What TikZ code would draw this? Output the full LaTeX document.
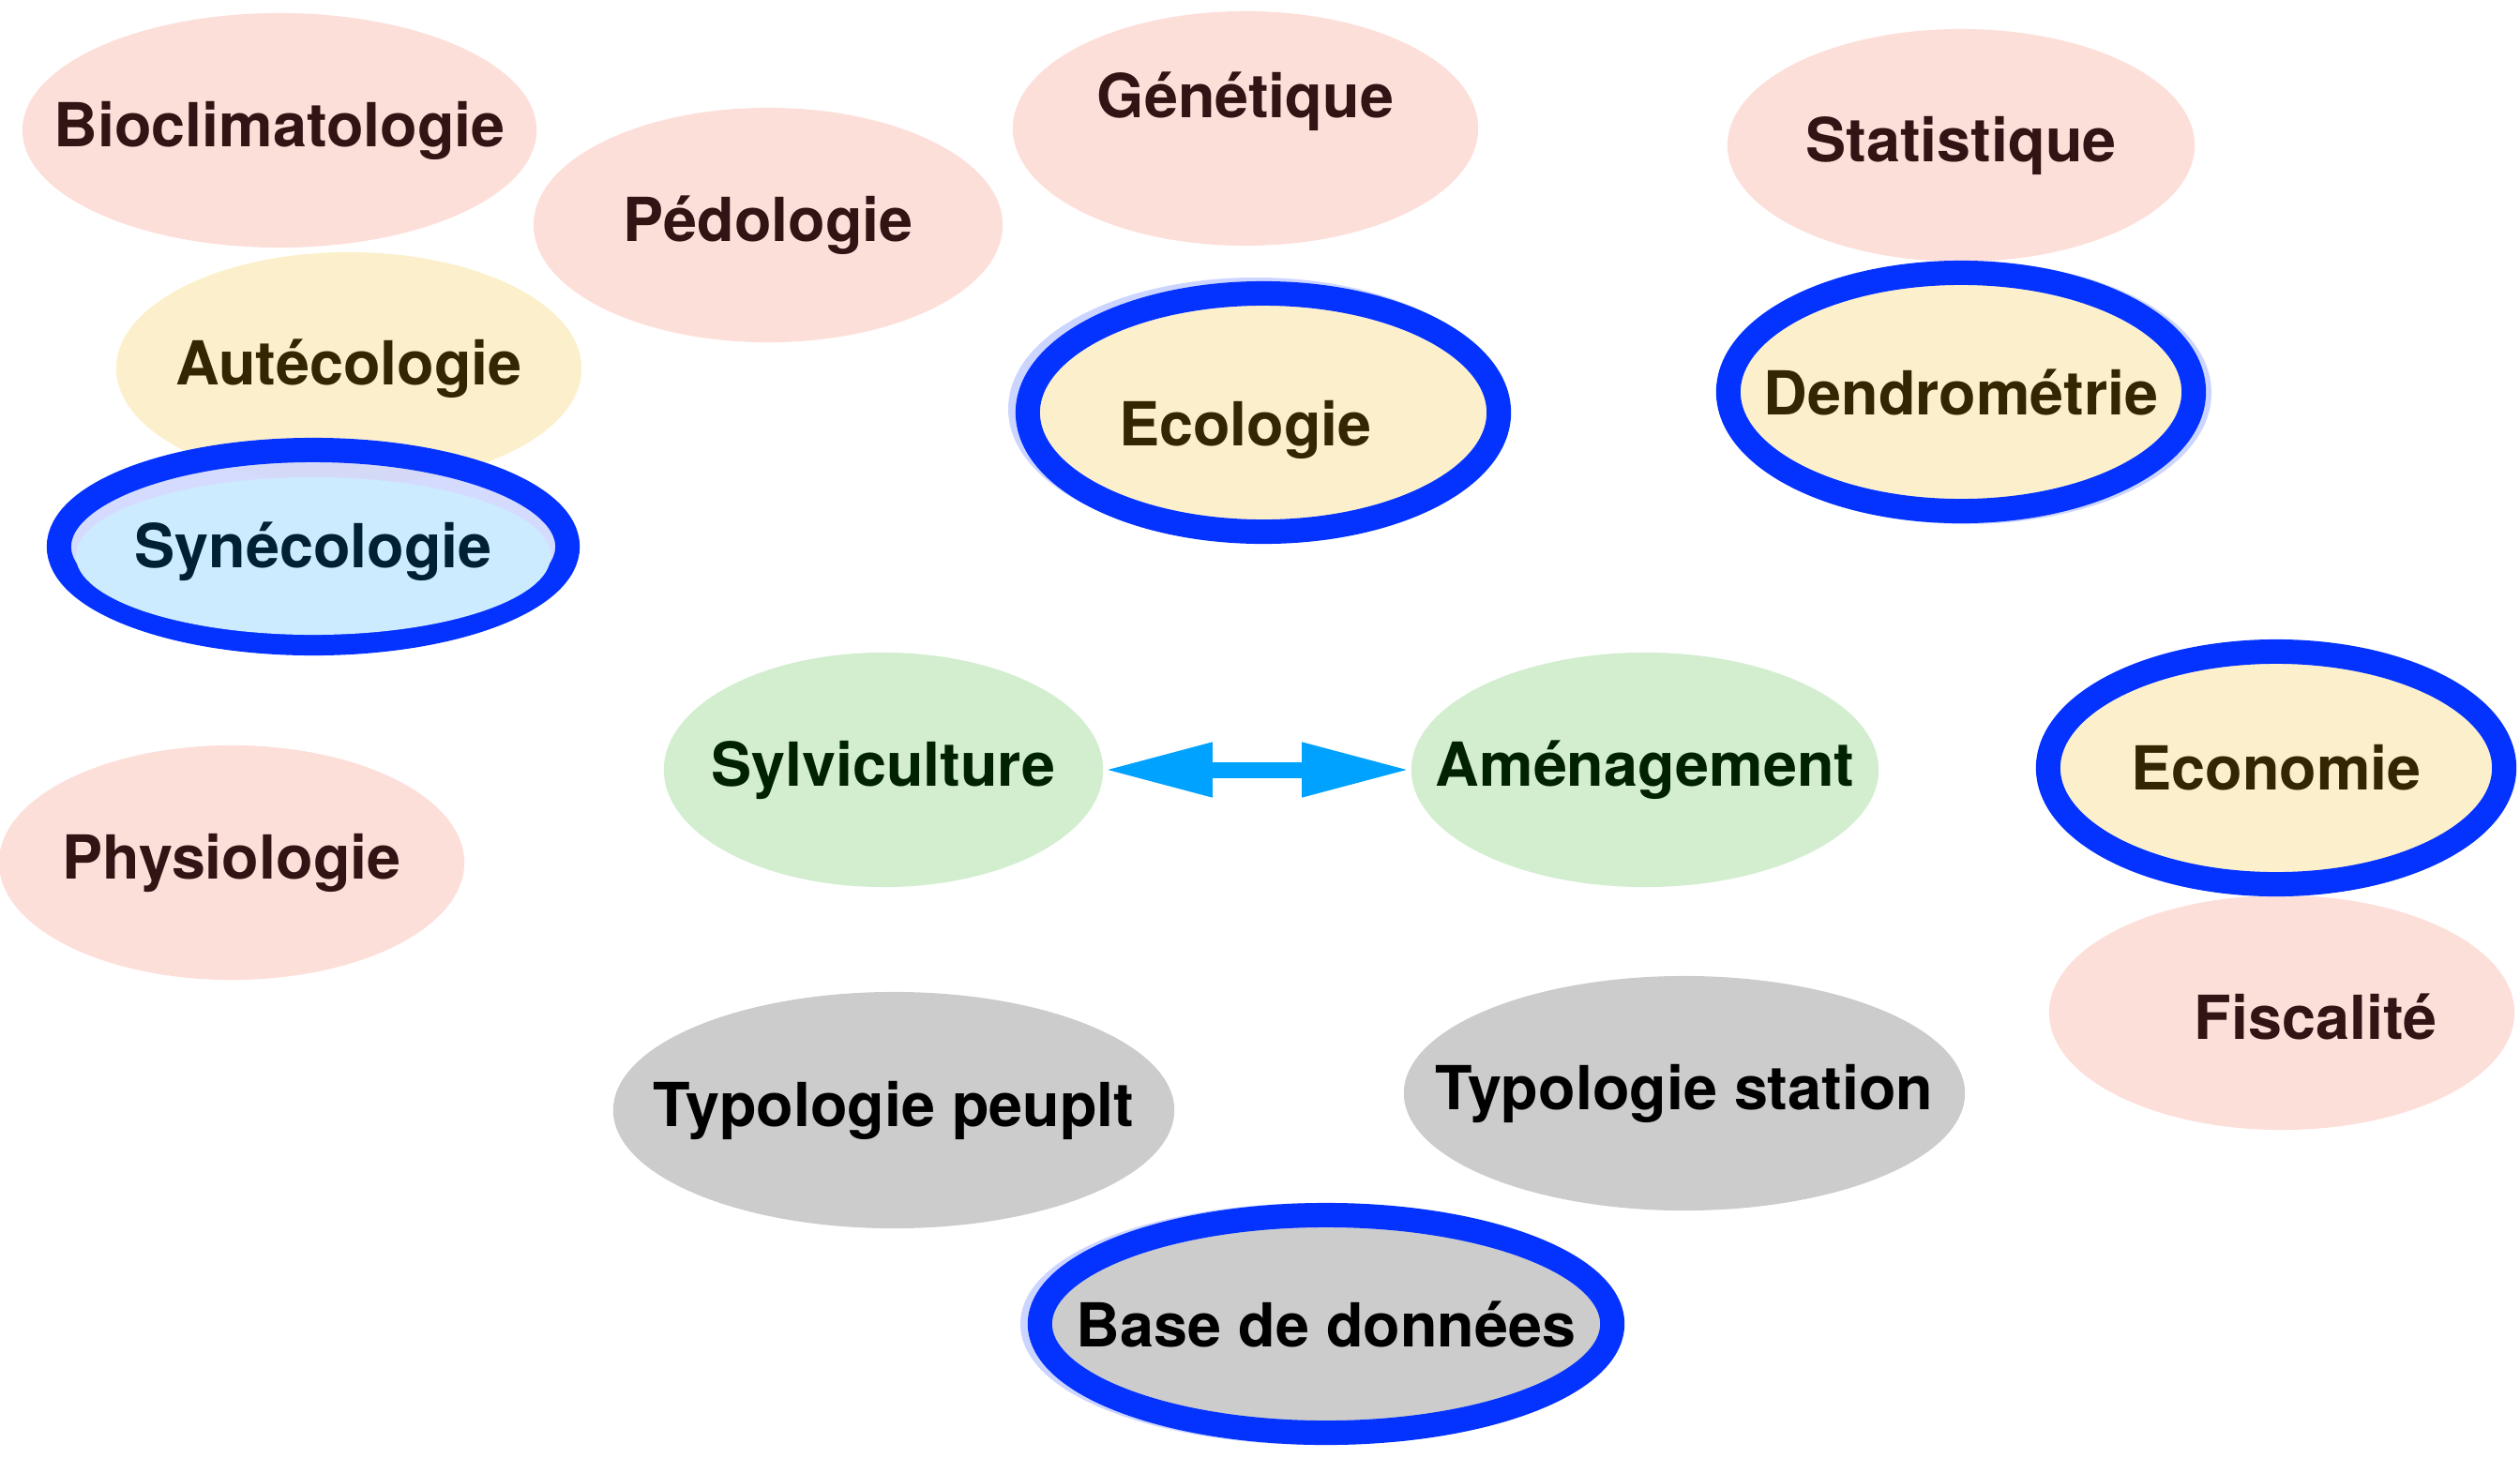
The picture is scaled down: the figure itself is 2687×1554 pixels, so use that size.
\documentclass[tikz,border=0pt]{standalone}
\usepackage{fontspec}
\setmainfont{TeX Gyre Heros}
\usepackage{tikz}
\usetikzlibrary{positioning,arrows.meta,shapes.geometric}

\definecolor{pinkfill}{HTML}{FDDFDA}
\definecolor{pinktext}{HTML}{331414}
\definecolor{yellowfill}{HTML}{FCF0CC}
\definecolor{yellowtext}{HTML}{332600}
\definecolor{bluefill}{HTML}{CDEBFF}
\definecolor{bluetext}{HTML}{002133}
\definecolor{greenfill}{HTML}{D2EECF}
\definecolor{greentext}{HTML}{002200}
\definecolor{grayfill}{HTML}{CCCCCC}
\definecolor{ringblue}{HTML}{0433FF}
\definecolor{halo}{HTML}{CCD5FF}
\definecolor{arrowblue}{HTML}{00A2FF}

\tikzset{
  blob/.style={ellipse, inner xsep=-4cm, inner ysep=-1cm,
    font=\bfseries\fontsize{18.4}{21}\selectfont},
  pinkblob/.style={blob, fill=pinkfill, text=pinktext},
  yellowblob/.style={blob, fill=yellowfill, text=yellowtext},
  greenblob/.style={blob, fill=greenfill, text=greentext},
  grayblob/.style={blob, fill=grayfill, text=black},
  ring/.style={draw=ringblue, line width=0.26cm},
  haloring/.style={draw=halo, line width=0.26cm},
  label/.style={font=\bfseries\fontsize{18.4}{21}\selectfont},
  link/.style={arrowblue, line width=0.17cm,
    {Triangle[length=1.16cm,width=0.54cm]}-{Triangle[length=1.16cm,width=0.54cm]}}
}

\begin{document}
\begin{tikzpicture}[x=0.01cm,y=-0.01cm]
  \useasboundingbox (0,0) rectangle (2687,1554);

  % upper disciplines
  \node[pinkblob, minimum width=5.48cm, minimum height=2.50cm] (bioclim) at (298,139) {Bioclimatologie};
  \node[pinkblob, minimum width=5.00cm, minimum height=2.50cm] (pedologie) at (819,240) {Pédologie};
  \node[pinkblob, minimum width=4.96cm, minimum height=2.50cm] (genetique) at (1328,137) {};
  \node[label, text=pinktext] (genetiquetxt) at (1328,108) {Génétique};
  \node[pinkblob, minimum width=4.98cm, minimum height=2.48cm] (statistique) at (2091,155) {Statistique};
  \node[yellowblob, minimum width=4.96cm, minimum height=2.48cm] (autecologie) at (372,393) {Autécologie};

  % synecologie, with its lavender inner band
  \node[blob, ring, fill=halo, fill opacity=0.85, minimum width=5.42cm, minimum height=2.06cm] (synecologie) at (334,583) {};
  \node[blob, fill=bluefill, text=bluetext, minimum width=5.06cm, minimum height=1.68cm] (synecologietxt) at (334,593) {};
  \node[label, text=bluetext] (synecologielbl) at (334,588) {Synécologie};

  % rings with a halo
  \draw[haloring] (1339,436) ellipse (251 and 127);
  \node[yellowblob, ring, minimum width=5.02cm, minimum height=2.54cm] (ecologie) at (1347,440) {};
  \node[label, text=yellowtext] (ecologietxt) at (1328,458) {Ecologie};

  \draw[haloring] (2097,419) ellipse (248 and 127);
  \node[yellowblob, ring, minimum width=4.96cm, minimum height=2.54cm] (dendrometrie) at (2091,418) {Dendrométrie};

  % middle row
  \node[greenblob, minimum width=4.68cm, minimum height=2.50cm] (sylviculture) at (942,821) {Sylviculture};
  \node[greenblob, minimum width=4.98cm, minimum height=2.50cm] (amenagement) at (1754,821) {Aménagement};
  \draw[link] (sylviculture) -- (amenagement);

  \node[pinkblob, minimum width=4.96cm, minimum height=2.50cm] (fiscalite) at (2433,1080) {};
  \node[label, text=pinktext] (fiscalitetxt) at (2469,1084) {Fiscalité};
  \node[yellowblob, ring, minimum width=4.86cm, minimum height=2.48cm] (economie) at (2427,819) {Economie};
  \node[pinkblob, minimum width=4.96cm, minimum height=2.50cm] (physiologie) at (247,920) {Physiologie};

  % lower row
  \node[grayblob, minimum width=5.98cm, minimum height=2.52cm] (typopeuplt) at (953,1184) {Typologie peuplt};
  \node[grayblob, minimum width=5.98cm, minimum height=2.50cm] (typostation) at (1796,1166) {Typologie station};
  \draw[haloring] (1406,1412) ellipse (305 and 116);
  \node[grayblob, ring, minimum width=6.10cm, minimum height=2.32cm] (basedonnees) at (1414,1412) {Base de données};
\end{tikzpicture}
\end{document}
